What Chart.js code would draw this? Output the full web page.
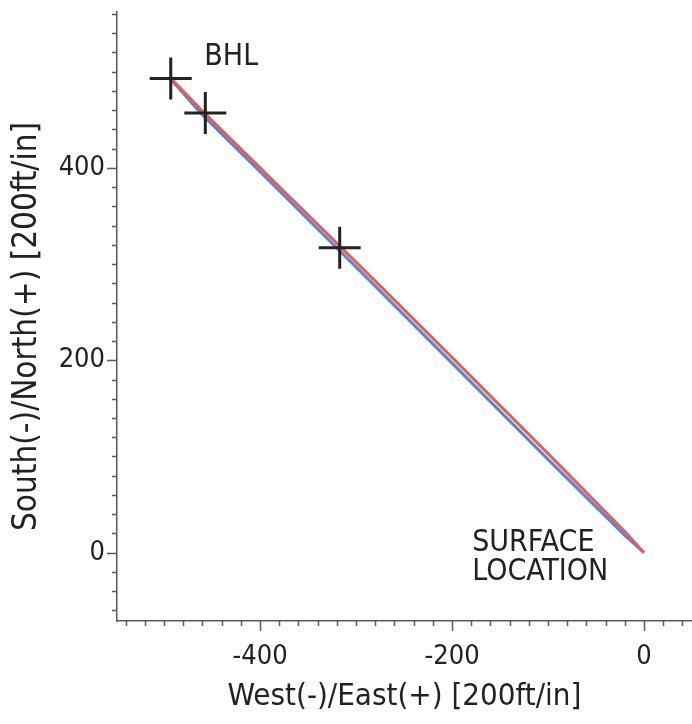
<!DOCTYPE html>
<html>
<head>
<meta charset="utf-8">
<script src="https://cdn.jsdelivr.net/npm/chart.js@4.4.0/dist/chart.umd.min.js"></script>
<style>
  html, body { margin: 0; padding: 0; background: #ffffff; }
  #wrap { width: 692px; height: 724px; position: relative; }
</style>
</head>
<body>
<div id="wrap"><canvas id="c" width="692" height="724"></canvas></div>
<script>
// ---- data (feet) ----
const planEast   = [0, -20, -100, -200, -300, -400, -460, -493];
const planNorth  = [0, 22, 103, 203, 302, 400, 459, 493];
const actualEast  = [0, -20, -100, -200, -300, -400, -460, -493];
const actualNorth = [0, 18, 97, 197, 297, 396, 455, 492];
const surveyEast  = [-493, -457, -317];
const surveyNorth = [493, 457, 317];
const labelTexts = ['BHL', 'SURFACE', 'LOCATION'];
const labelEast  = [-430, -179, -179];
const labelNorth = [515, 10, -20];
const xTitle = 'West(-)/East(+) [200ft/in]';
const yTitle = 'South(-)/North(+) [200ft/in]';
const xMin = -549, xMax = 50, yMin = -71, yMax = 562;
const minorStep = 20, majorStep = 200;

const FONT = "'DejaVu Sans Condensed', 'DejaVu Sans', sans-serif";
const TXT = '#222222';
const AX = '#5a5a5a';

function toPts(xs, ys) { return xs.map((x, i) => ({x: x, y: ys[i]})); }

const tickPlugin = {
  id: 'ticksAndLabels',
  afterDraw(chart) {
    const ctx = chart.ctx;
    const xs = chart.scales.x, ys = chart.scales.y;
    const ca = chart.chartArea;
    ctx.save();
    ctx.strokeStyle = AX;
    ctx.lineWidth = 1.5;
    ctx.beginPath();
    for (let v = Math.ceil(xMin / minorStep) * minorStep; v <= xMax; v += minorStep) {
      const px = Math.round(xs.getPixelForValue(v)) + 0.5;
      const len = (v % majorStep === 0) ? 10 : 5;
      ctx.moveTo(px, ca.bottom); ctx.lineTo(px, ca.bottom + len);
    }
    for (let v = Math.ceil(yMin / minorStep) * minorStep; v <= yMax; v += minorStep) {
      const py = Math.round(ys.getPixelForValue(v)) + 0.5;
      const len = (v % majorStep === 0) ? 10 : 5;
      ctx.moveTo(ca.left, py); ctx.lineTo(ca.left - len, py);
    }
    ctx.stroke();
    // annotations
    ctx.fillStyle = TXT;
    ctx.font = "30px " + FONT;
    ctx.textBaseline = 'middle';
    labelTexts.forEach((t, i) => {
      const px = xs.getPixelForValue(labelEast[i]);
      const py = ys.getPixelForValue(labelNorth[i]);
      ctx.textAlign = i === 0 ? 'center' : 'left';
      ctx.fillText(t, px, py);
    });
    // y-axis title
    ctx.save();
    ctx.translate(27, (ca.top + ca.bottom) / 2 + 10);
    ctx.rotate(-Math.PI / 2);
    ctx.textAlign = 'center';
    ctx.textBaseline = 'middle';
    ctx.font = "33px " + FONT;
    ctx.fillText(yTitle, 0, 0);
    ctx.restore();
    ctx.restore();
  }
};

function filterTicks(scale) {
  scale.ticks = scale.ticks.filter(t => Math.abs(t.value % minorStep) < 1e-6);
}

new Chart(document.getElementById('c'), {
  type: 'scatter',
  data: {
    datasets: [
      { label: 'Survey', data: toPts(surveyEast, surveyNorth), pointStyle: 'cross',
        pointRadius: 21, pointHoverRadius: 21, borderColor: '#222', backgroundColor: '#222',
        pointBorderWidth: 3, borderWidth: 3, showLine: false, order: 0 },
      { label: 'Plan', data: toPts(planEast, planNorth), showLine: true, borderColor: '#e05f5f',
        borderWidth: 3, pointRadius: 0, tension: 0, order: 1 },
      { label: 'Actual', data: toPts(actualEast, actualNorth), showLine: true, borderColor: '#5a84d2',
        borderWidth: 3, pointRadius: 0, tension: 0, order: 2 }
    ]
  },
  options: {
    responsive: false,
    animation: false,
    events: [],
    layout: { autoPadding: false, padding: { top: 12, right: 0, left: 0, bottom: 0 } },
    plugins: { legend: { display: false }, tooltip: { enabled: false } },
    scales: {
      x: {
        type: 'linear', min: xMin, max: xMax,
        afterBuildTicks: filterTicks,
        afterFit(s) { s.height = 103; s.paddingLeft = 0; s.paddingRight = 0; },
        border: { display: true, color: AX, width: 1.5 },
        grid: { display: true, drawOnChartArea: false, drawTicks: true, tickLength: 10, color: 'rgba(0,0,0,0)' },
        ticks: { stepSize: minorStep, autoSkip: false, maxRotation: 0, padding: 10, color: TXT,
                 font: { family: FONT, size: 27 },
                 callback: v => (v % majorStep === 0) ? String(v) : '' },
        title: { display: true, text: xTitle, color: TXT, font: { family: FONT, size: 31 }, padding: { bottom: 8 } }
      },
      y: {
        type: 'linear', min: yMin, max: yMax,
        afterBuildTicks: filterTicks,
        afterFit(s) { s.width = 117; s.paddingTop = 0; s.paddingBottom = 0; },
        border: { display: true, color: AX, width: 1.5 },
        grid: { display: true, drawOnChartArea: false, drawTicks: true, tickLength: 10, color: 'rgba(0,0,0,0)' },
        ticks: { stepSize: minorStep, autoSkip: false, padding: 2, color: TXT,
                 font: { family: FONT, size: 27 },
                 callback: v => (v % majorStep === 0) ? String(v) : '' },
        title: { display: false }
      }
    }
  },
  plugins: [tickPlugin]
});
</script>
</body>
</html>
